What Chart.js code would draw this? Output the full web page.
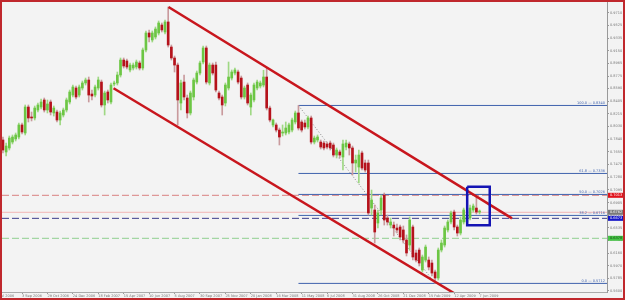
<!DOCTYPE html>
<html lang="en">
<head>
<meta charset="UTF-8">
<title>Weekly chart 2006-2009</title>
<script src="https://cdn.jsdelivr.net/npm/chart.js"></script>
<style>
  html, body { margin: 0; padding: 0; background: #f3f3f3; }
  #frame {
    width: 625px; height: 300px; box-sizing: border-box;
    border: 2px solid #c0282d; background: #f3f3f3;
  }
  canvas { display: block; }
</style>
</head>
<body>
<div id="frame"><canvas id="chart" width="621" height="296"></canvas></div>
<script>
// week index 0 = 9 Jul 2006, one candle per week
const firstWeek = 2;

const opens = [
  .7830,.7653,.7712,.7800,.7845,.7874,.8052,.7933,.8317,.8170,
  .8155,.8273,.8317,.8421,.8273,.8391,.8229,.8243,.8125,.8199,
  .8273,.8391,.8494,.8598,.8494,.8598,.8672,.8716,.8509,.8494,
  .8598,.8686,.8347,.8539,.8391,.8657,.8672,.8790,.9011,.8997,
  .8864,.8893,.8908,.8967,.8893,.9159,.9410,.9307,.9351,.9410,
  .9528,.9425,.9573,.9203,.9041,.8937,.8376,.8686,.8450,.8229,
  .8465,.8686,.8819,.8982,.9189,.8672,.8937,.8937,.8524,.8465,
  .8376,.8598,.8745,.8819,.8834,.8745,.8465,.8642,.8317,.8421,
  .8598,.8627,.8642,.8760,.8302,.8052,.8052,.7977,.7933,.7933,
  .7948,.7977,.8096,.8229,.8096,.8081,.8022,.8155,.7800,.7830,
  .7800,.7785,.7771,.7785,.7756,.7608,.7653,.7579,.7726,.7771,
  .7712,.7490,.7431,.7638,.7490,.7490,.6825,.6796,.6604,.6796,
  .7017,.6678,.6574,.6574,.6530,.6545,.6501,.6353,.6279,.6545,
  .6161,.6205,.5910,.6057,.6057,.6013,.5880,.5792,.6205,.6279,
  .6501,.6619,.6766,.6545,.6456,.6619,.6619,.6678,.6796,.6825,
  .6766
];
const highs = [
  .7874,.7785,.7889,.7904,.7933,.8081,.8081,.8347,.8347,.8243,
  .8332,.8376,.8435,.8450,.8421,.8421,.8332,.8273,.8258,.8302,
  .8450,.8568,.8642,.8627,.8642,.8701,.8745,.8760,.8568,.8642,
  .8760,.8716,.8553,.8568,.8672,.8701,.8834,.9041,.9041,.9026,
  .8967,.8967,.9011,.8997,.9189,.9440,.9455,.9440,.9499,.9587,
  .9558,.9602,.9794,.9233,.9070,.8967,.8716,.8790,.8494,.8553,
  .8745,.8849,.8997,.9218,.9218,.8967,.8967,.8982,.8553,.8494,
  .8672,.8982,.8864,.8893,.8864,.8775,.8627,.8672,.8524,.8672,
  .8716,.8701,.8860,.8893,.8332,.8140,.8081,.8007,.8052,.8096,
  .8081,.8155,.8258,.8340,.8125,.8125,.8184,.8184,.7889,.7904,
  .7830,.7815,.7800,.7815,.7785,.7712,.7682,.7830,.7830,.7800,
  .7741,.7608,.7682,.7667,.7534,.7534,.7091,.6870,.6796,.7017,
  .7047,.6722,.6678,.6619,.6589,.6574,.6560,.6427,.6693,.6574,
  .6205,.6235,.6131,.6279,.6102,.6057,.5910,.6235,.6353,.6560,
  .6648,.6781,.6796,.6574,.6693,.6825,.6722,.6870,.6885,.6988,
  .6796
];
const lows = [
  .7638,.7594,.7682,.7771,.7815,.7845,.7918,.7904,.8096,.8111,
  .8125,.8243,.8288,.8243,.8229,.8199,.8184,.8096,.8052,.8170,
  .8243,.8362,.8465,.8435,.8465,.8568,.8642,.8391,.8421,.8465,
  .8568,.8317,.8199,.8376,.8362,.8627,.8642,.8760,.8893,.8878,
  .8834,.8864,.8878,.8864,.8864,.9130,.9277,.9277,.9322,.9381,
  .9425,.9395,.9203,.9011,.8834,.8052,.8273,.8421,.8155,.8199,
  .8421,.8657,.8790,.8952,.8657,.8642,.8790,.8539,.8421,.8199,
  .8332,.8568,.8716,.8790,.8657,.8435,.8435,.8347,.8199,.8391,
  .8568,.8598,.8613,.8273,.8096,.8022,.7948,.7756,.7889,.7904,
  .7918,.7948,.8066,.7977,.7948,.7992,.7992,.7771,.7771,.7800,
  .7697,.7682,.7697,.7682,.7579,.7564,.7564,.7387,.7682,.7608,
  .7313,.7357,.7195,.7387,.7357,.6722,.6722,.6308,.6530,.6722,
  .6574,.6574,.6530,.6412,.6456,.6353,.6308,.6117,.6205,.6057,
  .6028,.5969,.5880,.6028,.5910,.5821,.5712,.5762,.6176,.6249,
  .6471,.6589,.6501,.6412,.6427,.6589,.6589,.6648,.6766,.6737,
  .6737
];
const closes = [
  .7682,.7741,.7859,.7874,.7904,.8052,.7948,.8317,.8155,.8155,
  .8302,.8347,.8391,.8273,.8362,.8243,.8302,.8125,.8229,.8273,
  .8421,.8539,.8613,.8465,.8613,.8672,.8716,.8494,.8480,.8613,
  .8716,.8347,.8524,.8421,.8642,.8672,.8790,.9011,.8923,.8908,
  .8937,.8937,.8982,.8893,.9159,.9410,.9351,.9410,.9469,.9558,
  .9455,.9573,.9233,.9041,.8937,.8421,.8672,.8465,.8229,.8524,
  .8716,.8819,.8967,.9189,.8686,.8937,.8819,.8568,.8450,.8347,
  .8642,.8760,.8834,.8864,.8686,.8465,.8598,.8376,.8494,.8642,
  .8686,.8672,.8760,.8302,.8125,.8125,.7977,.7874,.7948,.8007,
  .8052,.8125,.8229,.8007,.7977,.8022,.8155,.7800,.7859,.7874,
  .7726,.7712,.7726,.7712,.7608,.7682,.7608,.7771,.7785,.7712,
  .7490,.7534,.7608,.7416,.7387,.6752,.6944,.6471,.6752,.6973,
  .6648,.6619,.6619,.6530,.6501,.6397,.6353,.6161,.6648,.6102,
  .6057,.6013,.6102,.6249,.5954,.5865,.5792,.6205,.6308,.6530,
  .6619,.6752,.6545,.6456,.6648,.6796,.6693,.6825,.6855,.6766,
  .6766
];

const dateWeeks = [0, 8, 16, 24, 32, 40, 48, 56, 64, 72, 80, 88, 96, 104, 112, 120, 128, 136, 144, 152];
const dateLabels = ['9 Jul 2006', '3 Sep 2006', '29 Oct 2006', '24 Dec 2006', '18 Feb 2007', '15 Apr 2007',
  '10 Jun 2007', '5 Aug 2007', '30 Sep 2007', '25 Nov 2007', '20 Jan 2008', '16 Mar 2008', '11 May 2008',
  '6 Jul 2008', '31 Aug 2008', '26 Oct 2008', '21 Dec 2008', '15 Feb 2009', '12 Apr 2009', '7 Jun 2009'];

const priceTicks = [0.9710, 0.9525, 0.9335, 0.9150, 0.8965, 0.8775, 0.8590, 0.8405, 0.8215, 0.8030, 0.7840,
  0.7655, 0.7470, 0.7280, 0.7095, 0.6905, 0.6720, 0.6535, 0.6345, 0.6160, 0.5970, 0.5785, 0.5600];

// channel lines: [week, price] end points
const upperChannel = [[54.1, 0.9794], [162.2, 0.6673]];
const lowerChannel = [[36.8, 0.8594], [144.4, 0.5555]];

// fibonacci retracement
const fibStart = 95;
const fibNames = ['100.0', '61.8', '50.0', '38.2', '0.0'];
const fibLevels = [0.8340, 0.7336, 0.7026, 0.6716, 0.5712];
const fibBase = [[95, 0.8340], [138, 0.5712]];

// horizontal price lines + tags on the axis
const resistLevel = 0.7013;
const bidLevel = 0.6762;
const supportLevel = 0.6673;
const lowerLevel = 0.6378;

// highlighted box
const boxWeeks = [148.1, 155.2];
const boxPrices = [0.7140, 0.6570];

const xMin = 1.7, xMax = 192.1;
const yMin = 0.5585, yMax = 0.9868;

const GREEN = '#6cc644', RED = '#b5121b', FIB = '#3f62ad';
const isUp = closes.map((c, i) => c >= opens[i]);

const wickData = highs.map((h, i) => ({ x: firstWeek + i, y: [lows[i], h] }));
const bodyData = opens.map((o, i) => ({ x: firstWeek + i, y: [o, closes[i]] }));

function seg(points) { return points.map(p => ({ x: p[0], y: p[1] })); }
function hline(price) { return [{ x: xMin, y: price }, { x: xMax, y: price }]; }

const lineBase = { type: 'line', pointRadius: 0, fill: false, tension: 0 };

const datasets = [
  { ...lineBase, data: hline(lowerLevel), borderColor: '#8fcf8f', borderWidth: 1, borderDash: [7, 3], order: 20 },
  { ...lineBase, data: hline(supportLevel), borderColor: '#3c3c8c', borderWidth: 1, borderDash: [7, 3], order: 20 },
  { ...lineBase, data: hline(resistLevel), borderColor: '#d98080', borderWidth: 1, borderDash: [7, 3], order: 20 },
  { ...lineBase, data: hline(bidLevel), borderColor: '#f2b5b5', borderWidth: 1, order: 20 },
  { ...lineBase, data: seg(fibBase), borderColor: '#888', borderWidth: 1, borderDash: [1, 2], order: 15 }
];
fibLevels.forEach(v => {
  datasets.push({ ...lineBase, data: [{ x: fibStart, y: v }, { x: xMax, y: v }], borderColor: FIB, borderWidth: 1, order: 14 });
});
datasets.push(
  { type: 'bar', data: wickData, backgroundColor: isUp.map(u => u ? '#9fd884' : '#c99a9d'),
    barThickness: 1, grouped: false, order: 8 },
  { type: 'bar', data: bodyData, backgroundColor: isUp.map(u => u ? GREEN : RED),
    barThickness: 2, minBarLength: 1, grouped: false, order: 7 },
  { ...lineBase, data: seg(upperChannel), borderColor: '#c8161d', borderWidth: 2.5, order: 3 },
  { ...lineBase, data: seg(lowerChannel), borderColor: '#c8161d', borderWidth: 2.5, order: 3 },
  { ...lineBase, data: [
      { x: boxWeeks[0], y: boxPrices[0] }, { x: boxWeeks[1], y: boxPrices[0] },
      { x: boxWeeks[1], y: boxPrices[1] }, { x: boxWeeks[0], y: boxPrices[1] },
      { x: boxWeeks[0], y: boxPrices[0] }],
    borderColor: '#1414b4', borderWidth: 2.5, order: 2 }
);

const labelsPlugin = {
  id: 'labels',
  afterDatasetsDraw(chart) {
    const { ctx, chartArea, scales: { y } } = chart;
    ctx.save();
    ctx.font = '3.5px "DejaVu Sans"';
    ctx.fillStyle = FIB;
    ctx.textAlign = 'right';
    ctx.textBaseline = 'bottom';
    fibLevels.forEach((v, i) => {
      ctx.fillText(fibNames[i] + ' \u2014 ' + v.toFixed(4), chartArea.right - 2, y.getPixelForValue(v) - 0.5);
    });
    ctx.restore();
  },
  afterDraw(chart) {
    const { ctx, scales: { y } } = chart;
    const tags = [
      [resistLevel, '#e0121b', '#fff'],
      [bidLevel, '#7a7a7a', '#fff'],
      [supportLevel, '#1515c8', '#fff'],
      [lowerLevel, '#46c446', '#114411']
    ];
    ctx.save();
    ctx.font = '3.5px "DejaVu Sans"';
    ctx.textBaseline = 'middle';
    ctx.textAlign = 'left';
    tags.forEach(([v, bg, fg]) => {
      const py = y.getPixelForValue(v);
      ctx.fillStyle = bg;
      ctx.fillRect(y.left + 1, py - 2.5, y.right - y.left - 1, 5);
      ctx.fillStyle = fg;
      ctx.fillText(v.toFixed(4), y.left + 3, py);
    });
    ctx.restore();
  }
};

new Chart(document.getElementById('chart'), {
  type: 'bar',
  data: { datasets },
  options: {
    responsive: false,
    animation: false,
    layout: { padding: 0 },
    plugins: { legend: { display: false }, tooltip: { enabled: false } },
    scales: {
      x: {
        type: 'linear', min: xMin, max: xMax, offset: false,
        grid: { drawOnChartArea: false, tickLength: 2, color: '#999', offset: false },
        border: { color: '#aaa' },
        ticks: {
          font: { size: 3.5, family: 'DejaVu Sans' }, color: '#777', padding: 0,
          maxRotation: 0, minRotation: 0, autoSkip: false, align: 'start',
          callback: v => dateLabels[dateWeeks.indexOf(v)]
        },
        afterBuildTicks: s => { s.ticks = dateWeeks.map(w => ({ value: w })); },
        afterFit: s => { s.height = 6; s.paddingLeft = 0; s.paddingRight = 0; }
      },
      y: {
        type: 'linear', position: 'right', min: yMin, max: yMax,
        grid: { drawOnChartArea: false, tickLength: 2, color: '#999' },
        border: { color: '#999' },
        ticks: {
          font: { size: 3.5, family: 'DejaVu Sans' }, color: '#777', padding: 1,
          callback: v => v.toFixed(4)
        },
        afterBuildTicks: s => { s.ticks = priceTicks.map(v => ({ value: v })); },
        afterFit: s => { s.width = 16; s.paddingTop = 0; s.paddingBottom = 0; }
      }
    }
  },
  plugins: [labelsPlugin]
});
</script>
</body>
</html>
